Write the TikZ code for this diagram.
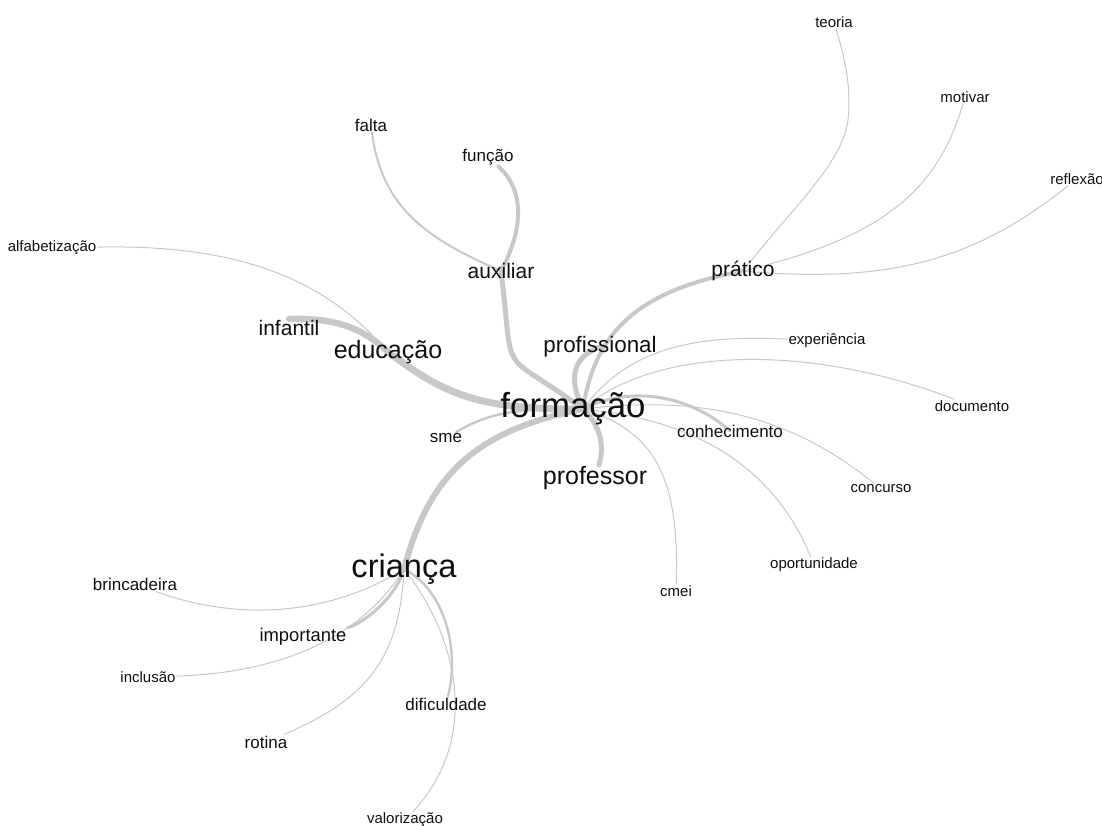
\documentclass[tikz,border=0pt]{standalone}
\usepackage{fontspec}
\setmainfont{Liberation Sans}
\usetikzlibrary{backgrounds}
\definecolor{edgegray}{RGB}{200,200,200}
\definecolor{wordtext}{RGB}{15,15,15}

\begin{document}
\begin{tikzpicture}[x=0.5pt, y=-0.5pt,
    word/.style={inner sep=0.5pt, text=wordtext},
    fs1/.style={word, font=\fontsize{7.5}{9}\selectfont},
    fs2/.style={word, font=\fontsize{8.5}{10}\selectfont},
    fs3/.style={word, font=\fontsize{9.2}{11}\selectfont},
    fs4/.style={word, font=\fontsize{10.5}{12}\selectfont},
    fs5/.style={word, font=\fontsize{11.2}{13}\selectfont},
    fs6/.style={word, font=\fontsize{12.5}{15}\selectfont},
    fs7/.style={word, font=\fontsize{16.3}{19}\selectfont},
    fs8/.style={word, font=\fontsize{17.4}{21}\selectfont},
    edgeline/.style={draw=edgegray, line cap=round, line width=#1},
    edgeline/.default=0.5pt]

  \useasboundingbox (0,0) rectangle (1102,825);

  % Central words
  \node[fs8] (formacao) at (573,409) {formação};
  \node[fs7] (crianca) at (404,569) {criança};
  \node[fs6] (educacao) at (388,352) {educação};
  \node[fs6] (professor) at (595,478) {professor};
  \node[fs5] (profissional) at (600,347) {profissional};
  \node[fs4] (auxiliar) at (501,271) {auxiliar};
  \node[fs4] (pratico) at (743,271) {prático};
  \node[fs4] (infantil) at (289,328) {infantil};
  \node[fs3] (importante) at (303,637) {importante};
  \node[fs2] (conhecimento) at (730,431) {conhecimento};
  \node[fs2] (sme) at (446,438) {sme};

  % Outer words
  \node[fs2] (falta) at (371,125) {falta};
  \node[fs2] (funcao) at (488,157) {função};
  \node[fs1] (alfabetizacao) at (52,248) {alfabetização};
  \node[fs1] (teoria) at (834,22) {teoria};
  \node[fs1] (motivar) at (965,97) {motivar};
  \node[fs1] (reflexao) at (1077,179) {reflexão};
  \node[fs1] (experiencia) at (827,341) {experiência};
  \node[fs1] (documento) at (972,406) {documento};
  \node[fs1] (concurso) at (881,489) {concurso};
  \node[fs1] (oportunidade) at (814,565) {oportunidade};
  \node[fs1] (cmei) at (676,591) {cmei};
  \node[fs2] (brincadeira) at (135,584) {brincadeira};
  \node[fs1] (inclusao) at (148,677) {inclusão};
  \node[fs2] (rotina) at (266,742) {rotina};
  \node[fs2] (dificuldade) at (446,704) {dificuldade};
  \node[fs1] (valorizacao) at (405,820) {valorização};

  \begin{scope}[on background layer]
    % Branches of formação
    \draw[edgeline=3.5pt] ([xshift=5pt]formacao.center) .. controls (480,410) and (445,395) .. (educacao.center);
    \draw[edgeline=3.2pt] (educacao.center) .. controls (360,325) and (330,318) .. (infantil.north);
    \draw[edgeline] (alfabetizacao) .. controls (250,244) and (330,285) .. (educacao.center);
    \draw[edgeline=2.5pt] ([xshift=5pt]formacao.center) .. controls (496,345) and (515,385) .. (auxiliar.center);
    \draw[edgeline=2pt] (funcao) .. controls (530,195) and (518,240) .. (auxiliar.center);
    \draw[edgeline=1pt] (falta) .. controls (382,210) and (430,240) .. (auxiliar.center);
    \draw[edgeline=2.5pt] ([xshift=5pt]formacao.center) .. controls (565,372) and (578,355) .. (profissional.center);
    \draw[edgeline=2pt] ([xshift=5pt]formacao.center) .. controls (595,330) and (640,290) .. (pratico.center);
    \draw[edgeline] (pratico.center) .. controls (790,210) and (842,165) .. (848,120) .. controls (852,80) and (842,50) .. (teoria);
    \draw[edgeline] (pratico.center) .. controls (870,240) and (935,200) .. (motivar);
    \draw[edgeline] (pratico.center) .. controls (900,285) and (980,255) .. (reflexao);
    \draw[edgeline] ([xshift=5pt]formacao.center) .. controls (630,345) and (700,335) .. (experiencia);
    \draw[edgeline] ([xshift=5pt]formacao.center) .. controls (650,350) and (800,340) .. (documento);
    \draw[edgeline=1.5pt] ([xshift=5pt]formacao.center) .. controls (630,385) and (690,395) .. (conhecimento.center);
    \draw[edgeline] ([xshift=5pt]formacao.center) .. controls (700,395) and (790,415) .. (concurso);
    \draw[edgeline] ([xshift=5pt]formacao.center) .. controls (700,420) and (775,470) .. (oportunidade);
    \draw[edgeline] ([xshift=5pt]formacao.center) .. controls (650,430) and (680,470) .. (cmei);
    \draw[edgeline=2.5pt] ([xshift=5pt]formacao.center) .. controls (600,425) and (605,445) .. (professor);
    \draw[edgeline=1.2pt] (sme) .. controls (490,412) and (520,408) .. ([xshift=5pt]formacao.center);
    \draw[edgeline=3pt] ([xshift=5pt]formacao.center) .. controls (480,430) and (430,470) .. (crianca.center);
    % Branches of criança
    \draw[edgeline] (crianca.center) .. controls (330,615) and (240,622) .. (brincadeira);
    \draw[edgeline=1.5pt] (crianca.center) .. controls (395,600) and (360,625) .. (importante);
    \draw[edgeline] (crianca.center) .. controls (370,625) and (300,672) .. (inclusao);
    \draw[edgeline] (crianca.center) .. controls (400,660) and (365,700) .. (rotina);
    \draw[edgeline=1.2pt] (crianca.center) .. controls (445,590) and (460,650) .. (dificuldade);
    \draw[edgeline] (crianca.center) .. controls (460,640) and (480,740) .. (valorizacao);
  \end{scope}
\end{tikzpicture}
\end{document}
